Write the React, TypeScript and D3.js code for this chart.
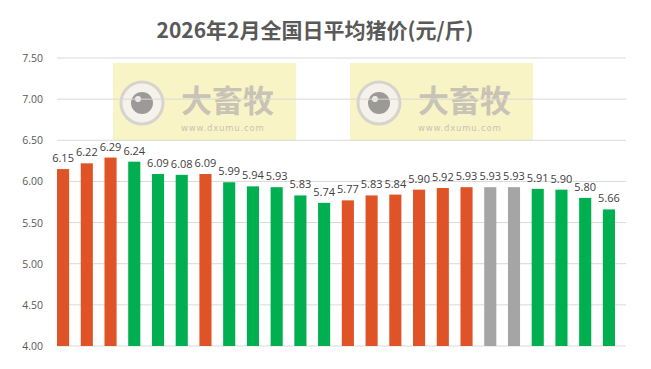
import React from "react";
import * as d3 from "d3";

const title = "2026年2月全国日平均猪价(元/斤)";
const days = d3.range(1, 25).map((d) => `${d}`);
const prices = [6.15, 6.22, 6.29, 6.24, 6.09, 6.08, 6.09, 5.99, 5.94, 5.93, 5.83, 5.74, 5.77, 5.83, 5.84, 5.90, 5.92, 5.93, 5.93, 5.93, 5.91, 5.90, 5.80, 5.66];
const trends = ["up", "up", "up", "down", "down", "down", "up", "down", "down", "down", "down", "down", "up", "up", "up", "up", "up", "up", "flat", "flat", "down", "down", "down", "down"];
const yTicks = [4.0, 4.5, 5.0, 5.5, 6.0, 6.5, 7.0, 7.5];
const watermarkX = [113, 350];

const colors: Record<string, string> = { up: "#E05326", down: "#00B050", flat: "#A5A5A5" };

export default function App() {
  const W = 651, H = 369;
  const gridLeft = 57, gridRight = 626;
  const y = d3.scaleLinear().domain([4, 7.5]).range([346, 58]);
  const x = d3.scaleBand().domain(days).range([51.2, 620.8]).paddingInner(0.49).paddingOuter(0.245);
  const font = "'Open Sans', 'Noto Sans', sans-serif";
  return (
    <svg width={W} height={H} style={{ position: "absolute", left: 0, top: 0, background: "#fff" }}>
      <text x={315} y={38} textAnchor="middle" fontFamily="'Noto Sans CJK SC', sans-serif" fontWeight="bold" fontSize={21} fill="#595959">{title}</text>
      {watermarkX.map((wx, i) => (
        <g key={i} transform={`translate(${wx},63)`}>
          <rect width={183} height={78} fill="#F8F4C6" />
          <circle cx={29} cy={40} r={21} fill="#F4F2EA" stroke="#D6D4CC" strokeWidth={3} />
          <circle cx={29} cy={40} r={11} fill="#9C9A96" />
          <circle cx={25} cy={36} r={3} fill="#EDEDED" />
          <text x={68} y={49} fontFamily="'Noto Sans CJK SC', sans-serif" fontWeight="bold" fontSize={31} fill="#C9C3B6">大畜牧</text>
          <text x={68} y={68} fontFamily="'DejaVu Sans', sans-serif" fontSize={8.5} letterSpacing={0.8} fill="#C9C3B6">www.dxumu.com</text>
        </g>
      ))}
      {yTicks.map((t) => (
        <g key={t}>
          <line x1={gridLeft} x2={gridRight} y1={y(t)} y2={y(t)} stroke="#D9D9D9" strokeWidth={1} />
          <text x={43} y={y(t) + 4} textAnchor="end" fontFamily={font} fontSize={10.5} fill="#595959">{t.toFixed(2)}</text>
        </g>
      ))}
      {prices.map((v, i) => (
        <g key={i}>
          <rect x={x(days[i])} y={y(v)} width={x.bandwidth()} height={y(4) - y(v)} fill={colors[trends[i]]} />
          <text x={(x(days[i]) as number) + x.bandwidth() / 2} y={y(v) - 7} textAnchor="middle" fontFamily={font} fontSize={11} fill="#404040">{v.toFixed(2)}</text>
        </g>
      ))}
    </svg>
  );
}
